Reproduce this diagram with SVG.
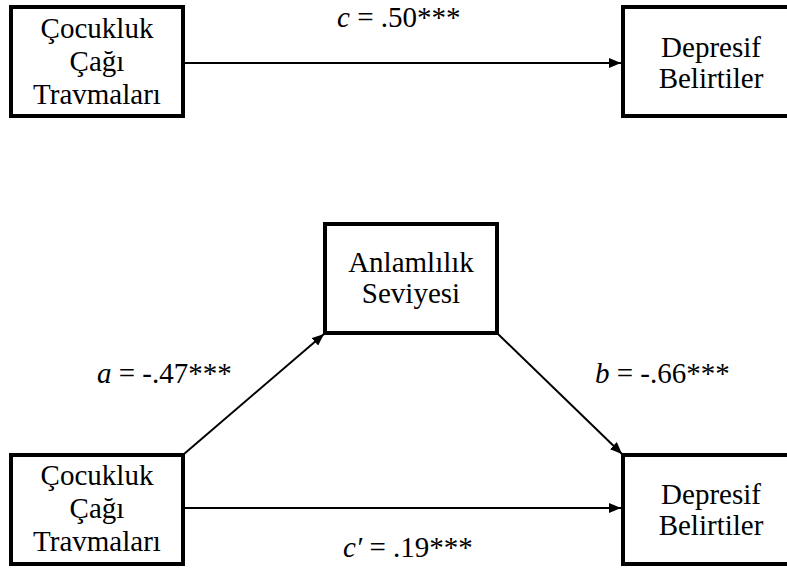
<svg xmlns="http://www.w3.org/2000/svg" width="787" height="568" viewBox="0 0 787 568" font-family="Liberation Serif, serif" font-size="29">
<style>
.box{fill:#fff;stroke:#000;stroke-width:4}
.t{text-anchor:middle}
.c{stroke:#000;stroke-width:2;fill:none;marker-end:url(#ah)}
</style>
<defs>
<marker id="ah" markerUnits="userSpaceOnUse" markerWidth="13" markerHeight="10" refX="12" refY="5" orient="auto">
<path d="M0,0 L12,5 L0,10 z" fill="#000"/>
</marker>
</defs>
<g id="connectors">
<line class="c" x1="185" y1="63" x2="621" y2="63"/>
<line class="c" x1="185" y1="508" x2="621" y2="508"/>
<line class="c" x1="184" y1="454" x2="324" y2="334"/>
<line class="c" x1="498" y1="334" x2="622" y2="454"/>
</g>
<g id="n1">
<rect class="box" x="11" y="7" width="172" height="109"/>
<text class="t" x="97" y="38">Çocukluk</text>
<text class="t" x="97" y="71">Çağı</text>
<text class="t" x="97" y="104">Travmaları</text>
</g>
<g id="n2">
<rect class="box" x="623" y="7" width="180" height="109"/>
<text class="t" x="711" y="57">Depresif</text>
<text class="t" x="711" y="88">Belirtiler</text>
</g>
<g id="n3">
<rect class="box" x="325" y="224" width="172" height="109"/>
<text class="t" x="411" y="272">Anlamlılık</text>
<text class="t" x="411" y="303">Seviyesi</text>
</g>
<g id="n4">
<rect class="box" x="11" y="455" width="172" height="109"/>
<text class="t" x="97" y="485">Çocukluk</text>
<text class="t" x="97" y="518">Çağı</text>
<text class="t" x="97" y="551">Travmaları</text>
</g>
<g id="n5">
<rect class="box" x="623" y="455" width="180" height="109"/>
<text class="t" x="711" y="504">Depresif</text>
<text class="t" x="711" y="535">Belirtiler</text>
</g>
<g id="labels">
<text x="337" y="27"><tspan font-style="italic">c</tspan> = .50***</text>
<text x="97" y="383"><tspan font-style="italic">a</tspan> = -.47***</text>
<text x="595" y="383"><tspan font-style="italic">b</tspan> = -.66***</text>
<text x="343" y="557"><tspan font-style="italic">c′</tspan> = .19***</text>
</g>
</svg>
